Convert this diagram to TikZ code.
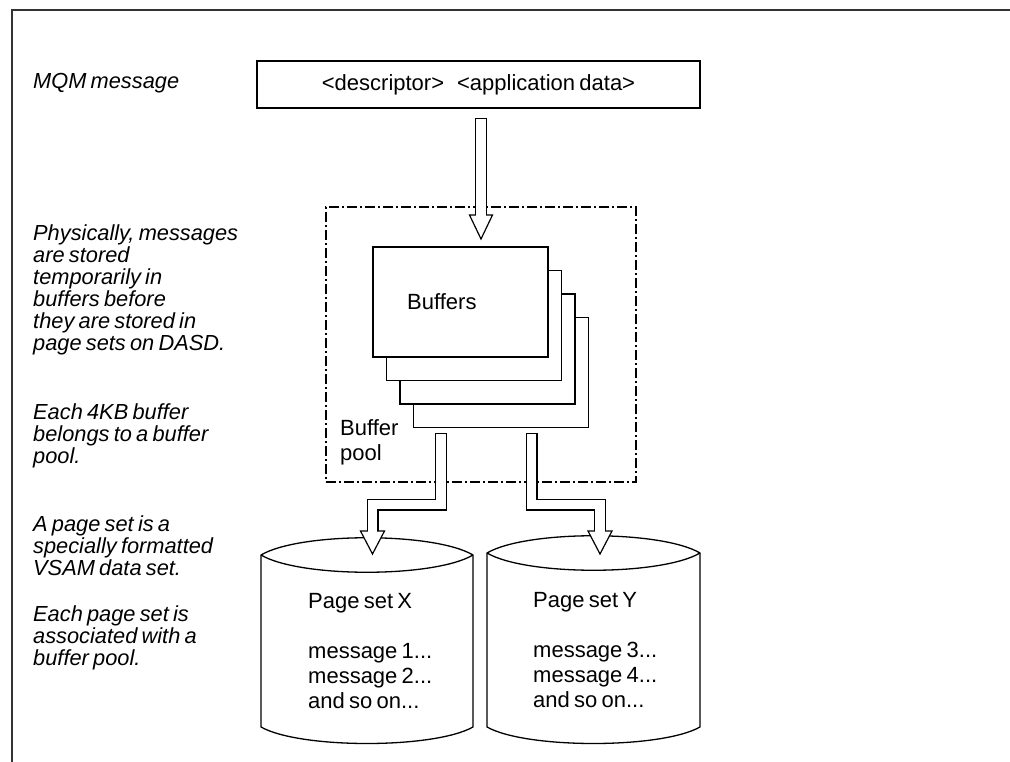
\documentclass[tikz,border=0pt]{standalone}
\usepackage{fontspec}
\setmainfont{Liberation Sans}[WordSpace=0.7]
\usetikzlibrary{calc}
\begin{document}
\begin{tikzpicture}[x=1pt,y=-1pt,
  every node/.style={inner sep=0pt, font=\fontsize{22}{25}\selectfont},
  note/.style={anchor=base west, align=left, font=\fontsize{21.8}{22}\selectfont\itshape},
  plain/.style={anchor=base west, align=left},
  box/.style={draw, line width=1.3pt, fill=white},
  pool/.style={draw, line width=1.2pt, dash pattern=on 10pt off 3pt on 2pt off 3pt},
  shaftout/.style={line width=12pt, line join=miter},
  shaftin/.style={line width=9.6pt, white, line join=miter, shorten <=1.3pt, shorten >=-1.6pt},
  head/.style={draw, fill=white, line width=1.2pt, line join=miter},
  cyl/.style={draw, fill=white, line width=1.3pt},
  frame/.style={line width=1.8pt, black!80, line join=miter},
]
\useasboundingbox (0,0) rectangle (1010,762);
\draw[frame] (12,762) -- (12,10) -- (1010,10);

% left notes (anchor = baseline of last line)
\node[note] (n0) at (33,89) {MQM message};
\node[note] (n1) at (33,350) {Physically, messages\\are stored\\temporarily in\\buffers before\\they are stored in\\page sets on DASD.};
\node[note] (n2) at (33,463) {Each 4KB buffer\\belongs to a buffer\\pool.};
\node[note] (n3) at (33,575) {A page set is a\\specially formatted\\VSAM data set.};
\node[note] (n4) at (33,665) {Each page set is\\associated with a\\buffer pool.};

% message box
\node[box, minimum width=443pt, minimum height=47pt] (msg) at (478.5,84.5)
  {<descriptor>\hspace{13pt}<application data>};

% buffer pool
\node[pool, minimum width=310pt, minimum height=275pt] (pool) at (481,344.5) {};
\node[plain] (bpl) at (340,460) {Buffer\\pool};

% cylinders
\draw[cyl] (261,555) .. controls (300,532) and (434,532) .. (473,555) -- (473,727)
  .. controls (434,749) and (300,749) .. (261,727) -- cycle;
\draw[cyl, fill=none] (261,555) .. controls (300,578) and (434,578) .. (473,555);
\draw[cyl] (487,553) .. controls (526,530) and (661,530) .. (700,553) -- (700,727)
  .. controls (661,749) and (526,749) .. (487,727) -- cycle;
\draw[cyl, fill=none] (487,553) .. controls (526,576) and (661,576) .. (700,553);
\node[plain] (psx) at (308,708) {Page set X\\[25pt]message 1...\\message 2...\\and so on...};
\node[plain] (psy) at (533,707) {Page set Y\\[25pt]message 3...\\message 4...\\and so on...};

% arrow from message into pool
\coordinate (a1s) at ($(msg.south)+(2.5,9)$);
\coordinate (a1t) at (481,239);
\coordinate (a1b) at ($(a1t)+(0,-24)$);
\draw[head] ($(a1t)+(-11.5,-24)$) -- ($(a1t)+(11.5,-24)$) -- (a1t) -- cycle;
\draw[shaftout] (a1s) -- (a1b);
\draw[shaftin] (a1s) -- (a1b);

% buffer stack
\node[box, minimum width=175pt, minimum height=110pt] (b4) at (501,372.5) {};
\node[box, minimum width=175pt, minimum height=110pt] (b3) at (487.5,349) {};
\node[box, minimum width=175pt, minimum height=110pt] (b2) at (474,325.5) {};
\node[box, minimum width=175pt, minimum height=110pt] (b1) at (460.5,302) {};
\node[plain] (buf) at (407,309) {Buffers};

% bent arrows to page sets
\coordinate (l1s) at ($(b4.south)+(-60,5)$);
\coordinate (l1t) at (372.5,554);
\coordinate (l1b) at ($(l1t)+(0,-23)$);
\coordinate (l1m) at ($(l1t)+(0,-49.5)$);
\draw[head] ($(l1t)+(-12,-23)$) -- ($(l1t)+(12,-23)$) -- (l1t) -- cycle;
\draw[shaftout] (l1s) |- (l1m) -- (l1b);
\draw[shaftin] (l1s) |- (l1m) -- (l1b);

\coordinate (r1s) at ($(b4.south)+(30.5,5)$);
\coordinate (r1t) at (600,554);
\coordinate (r1b) at ($(r1t)+(0,-23)$);
\coordinate (r1m) at ($(r1t)+(0,-49.5)$);
\draw[head] ($(r1t)+(-12,-23)$) -- ($(r1t)+(12,-23)$) -- (r1t) -- cycle;
\draw[shaftout] (r1s) |- (r1m) -- (r1b);
\draw[shaftin] (r1s) |- (r1m) -- (r1b);
\end{tikzpicture}
\end{document}
